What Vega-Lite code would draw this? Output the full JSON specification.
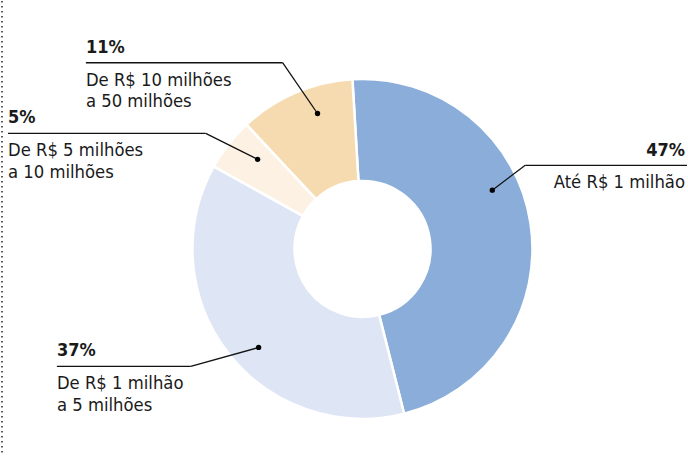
{
  "$schema": "https://vega.github.io/schema/vega-lite/v6.json",
  "width": 688,
  "height": 457,
  "autosize": {"type": "fit", "contains": "padding"},
  "padding": 0,
  "background": "#ffffff",
  "config": {
    "view": {"stroke": null},
    "axis": {"disable": true},
    "text": {"font": "DejaVu Sans Condensed", "color": "#1a1a1a"}
  },
  "datasets": {
    "slices": [
      {"cat": "Até R$ 1 milhão", "pct": 47, "ord": 1},
      {"cat": "De R$ 1 milhão a 5 milhões", "pct": 37, "ord": 2},
      {"cat": "De R$ 5 milhões a 10 milhões", "pct": 5, "ord": 3},
      {"cat": "De R$ 10 milhões a 50 milhões", "pct": 11, "ord": 4}
    ],
    "callouts": [
      {"pctLabel": "47%", "desc": ["Até R$ 1 milhão"], "side": "right", "dotX": 493, "dotY": 190, "elbowX": 526, "elbowY": 165, "endX": 688},
      {"pctLabel": "37%", "desc": ["De R$ 1 milhão", "a 5 milhões"], "side": "left", "dotX": 259, "dotY": 348, "elbowX": 191, "elbowY": 367, "endX": 57},
      {"pctLabel": "5%", "desc": ["De R$ 5 milhões", "a 10 milhões"], "side": "left", "dotX": 258, "dotY": 159, "elbowX": 206, "elbowY": 133, "endX": 8},
      {"pctLabel": "11%", "desc": ["De R$ 10 milhões", "a 50 milhões"], "side": "left", "dotX": 318, "dotY": 113, "elbowX": 283, "elbowY": 62, "endX": 86}
    ],
    "frame": [{"x": 2, "y0": 0, "y1": 457}]
  },
  "layer": [
    {
      "data": {"name": "slices"},
      "mark": {"type": "arc", "outerRadius": 170, "innerRadius": 68, "stroke": "#ffffff", "strokeWidth": 2.5},
      "encoding": {
        "theta": {"field": "pct", "type": "quantitative", "stack": true, "scale": {"range": [-0.059, 6.224]}},
        "order": {"field": "ord", "type": "quantitative"},
        "color": {
          "field": "cat", "type": "nominal", "legend": null,
          "scale": {
            "domain": ["Até R$ 1 milhão", "De R$ 1 milhão a 5 milhões", "De R$ 5 milhões a 10 milhões", "De R$ 10 milhões a 50 milhões"],
            "range": ["#8aadda", "#dee5f4", "#fdf1e4", "#f6dbb0"]
          }
        },
        "x": {"datum": 363, "type": "quantitative", "scale": {"domain": [0, 688], "nice": false, "zero": false}},
        "y": {"datum": 249, "type": "quantitative", "scale": {"domain": [0, 457], "nice": false, "zero": false, "reverse": true}}
      }
    },
    {
      "data": {"name": "frame"},
      "mark": {"type": "rule", "color": "#333333", "strokeWidth": 1.6, "strokeDash": [1.6, 3.4]},
      "encoding": {
        "x": {"field": "x", "type": "quantitative", "scale": {"domain": [0, 688], "nice": false, "zero": false}},
        "y": {"field": "y0", "type": "quantitative", "scale": {"domain": [0, 457], "nice": false, "zero": false, "reverse": true}},
        "y2": {"field": "y1"}
      }
    },
    {
      "data": {"name": "callouts"},
      "mark": {"type": "rule", "color": "#111111", "strokeWidth": 1.3},
      "encoding": {
        "x": {"field": "dotX", "type": "quantitative", "scale": {"domain": [0, 688], "nice": false, "zero": false}},
        "y": {"field": "dotY", "type": "quantitative", "scale": {"domain": [0, 457], "nice": false, "zero": false, "reverse": true}},
        "x2": {"field": "elbowX"},
        "y2": {"field": "elbowY"}
      }
    },
    {
      "data": {"name": "callouts"},
      "mark": {"type": "rule", "color": "#111111", "strokeWidth": 1.3},
      "encoding": {
        "x": {"field": "elbowX", "type": "quantitative", "scale": {"domain": [0, 688], "nice": false, "zero": false}},
        "y": {"field": "elbowY", "type": "quantitative", "scale": {"domain": [0, 457], "nice": false, "zero": false, "reverse": true}},
        "x2": {"field": "endX"}
      }
    },
    {
      "data": {"name": "callouts"},
      "mark": {"type": "point", "filled": true, "color": "#000000", "size": 28, "opacity": 1},
      "encoding": {
        "x": {"field": "dotX", "type": "quantitative", "scale": {"domain": [0, 688], "nice": false, "zero": false}},
        "y": {"field": "dotY", "type": "quantitative", "scale": {"domain": [0, 457], "nice": false, "zero": false, "reverse": true}}
      }
    },
    {
      "data": {"name": "callouts"},
      "transform": [{"filter": "datum.side === 'left'"}],
      "mark": {"type": "text", "align": "left", "baseline": "alphabetic", "dy": -10, "fontSize": 18, "fontWeight": "bold"},
      "encoding": {
        "x": {"field": "endX", "type": "quantitative", "scale": {"domain": [0, 688], "nice": false, "zero": false}},
        "y": {"field": "elbowY", "type": "quantitative", "scale": {"domain": [0, 457], "nice": false, "zero": false, "reverse": true}},
        "text": {"field": "pctLabel"}
      }
    },
    {
      "data": {"name": "callouts"},
      "transform": [{"filter": "datum.side === 'left'"}],
      "mark": {"type": "text", "align": "left", "baseline": "alphabetic", "dy": 23, "fontSize": 18.3, "lineHeight": 21.5},
      "encoding": {
        "x": {"field": "endX", "type": "quantitative", "scale": {"domain": [0, 688], "nice": false, "zero": false}},
        "y": {"field": "elbowY", "type": "quantitative", "scale": {"domain": [0, 457], "nice": false, "zero": false, "reverse": true}},
        "text": {"field": "desc"}
      }
    },
    {
      "data": {"name": "callouts"},
      "transform": [{"filter": "datum.side === 'right'"}],
      "mark": {"type": "text", "align": "right", "baseline": "alphabetic", "dy": -9, "dx": -2, "fontSize": 18, "fontWeight": "bold"},
      "encoding": {
        "x": {"field": "endX", "type": "quantitative", "scale": {"domain": [0, 688], "nice": false, "zero": false}},
        "y": {"field": "elbowY", "type": "quantitative", "scale": {"domain": [0, 457], "nice": false, "zero": false, "reverse": true}},
        "text": {"field": "pctLabel"}
      }
    },
    {
      "data": {"name": "callouts"},
      "transform": [{"filter": "datum.side === 'right'"}],
      "mark": {"type": "text", "align": "right", "baseline": "alphabetic", "dy": 23, "dx": -2, "fontSize": 18.3, "lineHeight": 21.5},
      "encoding": {
        "x": {"field": "endX", "type": "quantitative", "scale": {"domain": [0, 688], "nice": false, "zero": false}},
        "y": {"field": "elbowY", "type": "quantitative", "scale": {"domain": [0, 457], "nice": false, "zero": false, "reverse": true}},
        "text": {"field": "desc"}
      }
    }
  ]
}
